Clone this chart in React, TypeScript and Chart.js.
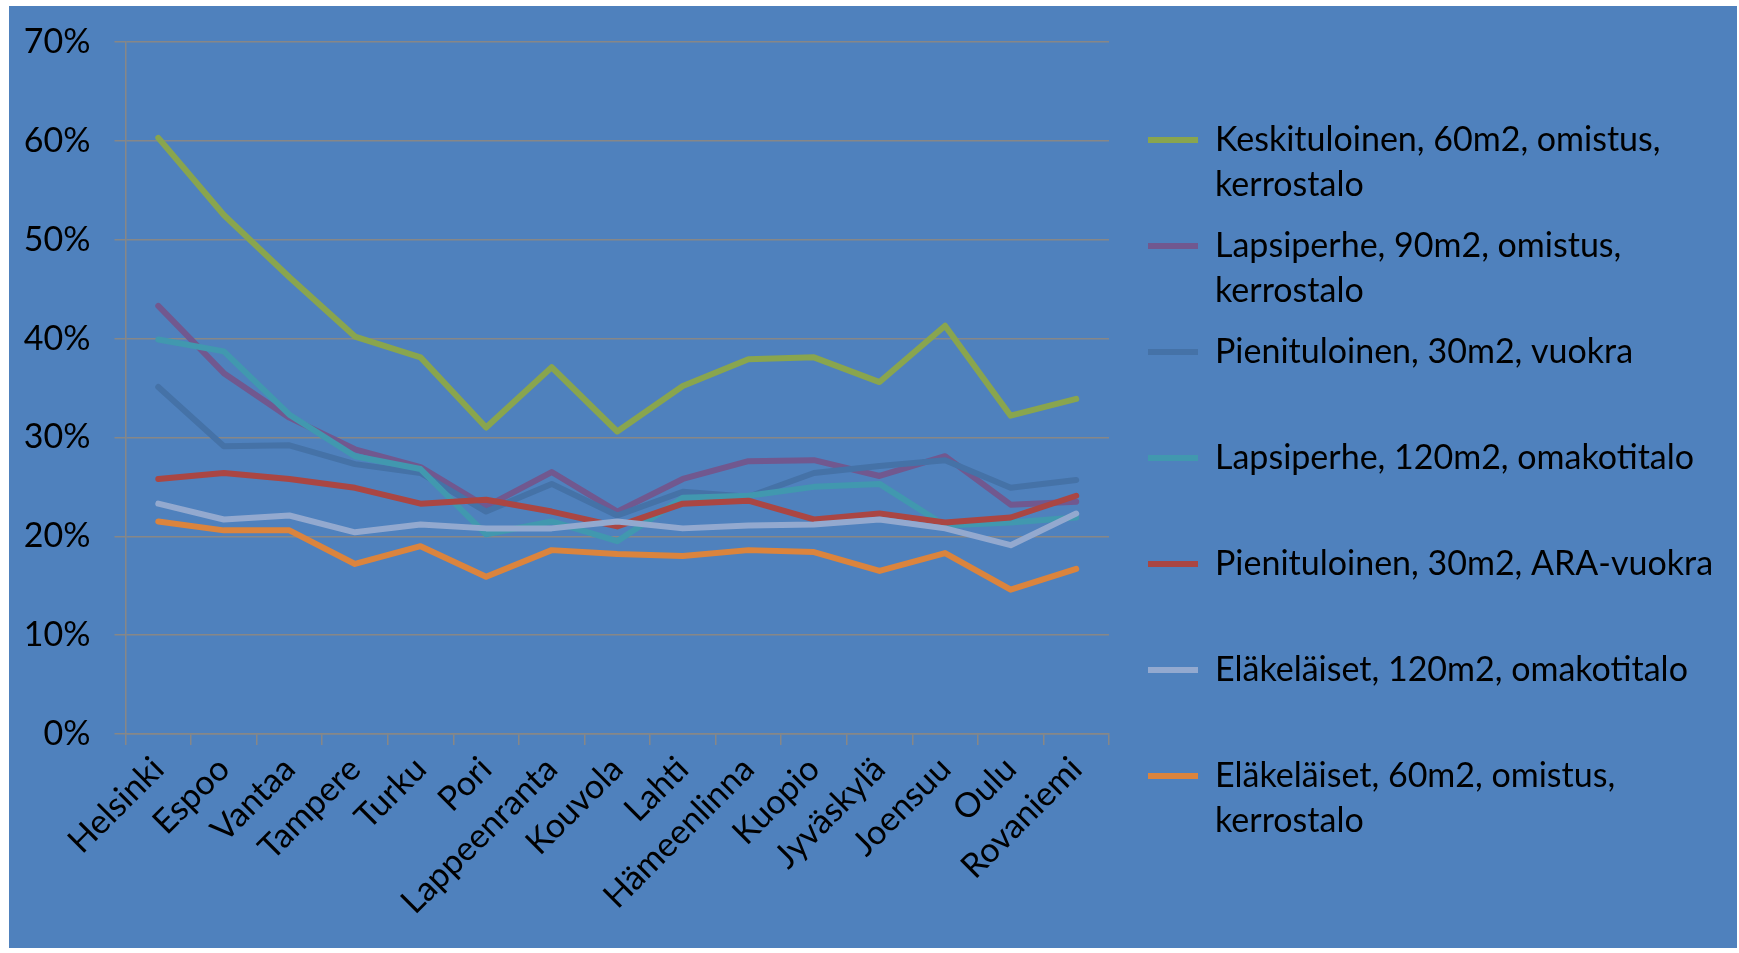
import { useEffect, useRef } from "react";
import { Chart, registerables } from "chart.js";

Chart.register(...registerables);

const cities = [
  "Helsinki", "Espoo", "Vantaa", "Tampere", "Turku", "Pori", "Lappeenranta",
  "Kouvola", "Lahti", "Hämeenlinna", "Kuopio", "Jyväskylä", "Joensuu", "Oulu", "Rovaniemi",
];

const keskituloinen60Omistus = [60.3, 52.5, 46.2, 40.2, 38.1, 31.0, 37.1, 30.6, 35.2, 37.9, 38.1, 35.6, 41.3, 32.2, 33.9];
const lapsiperhe90Omistus = [43.3, 36.5, 32.0, 28.8, 27.0, 23.0, 26.5, 22.5, 25.8, 27.6, 27.7, 26.1, 28.1, 23.2, 23.5];
const pienituloinen30Vuokra = [35.1, 29.1, 29.2, 27.3, 26.4, 22.5, 25.3, 22.1, 24.5, 24.0, 26.4, 27.1, 27.7, 24.9, 25.7];
const lapsiperhe120Omakoti = [39.9, 38.7, 32.3, 28.1, 26.8, 20.2, 21.5, 19.5, 23.9, 24.1, 25.0, 25.3, 21.1, 21.4, 21.9];
const pienituloinen30Ara = [25.8, 26.4, 25.8, 24.9, 23.3, 23.7, 22.5, 21.0, 23.3, 23.6, 21.7, 22.3, 21.4, 21.9, 24.1];
const elakelaiset120Omakoti = [23.3, 21.7, 22.1, 20.4, 21.2, 20.8, 20.8, 21.5, 20.8, 21.1, 21.2, 21.7, 20.8, 19.1, 22.3];
const elakelaiset60Omistus = [21.5, 20.6, 20.6, 17.2, 19.0, 15.9, 18.6, 18.2, 18.0, 18.6, 18.4, 16.5, 18.3, 14.6, 16.7];

const yTicks = [0, 10, 20, 30, 40, 50, 60, 70];

const seriesLabels: string[][] = [
  ["Keskituloinen, 60m2, omistus,", "kerrostalo"],
  ["Lapsiperhe, 90m2, omistus,", "kerrostalo"],
  ["Pienituloinen, 30m2, vuokra", ""],
  ["Lapsiperhe, 120m2, omakotitalo", ""],
  ["Pienituloinen, 30m2, ARA-vuokra", ""],
  ["Eläkeläiset, 120m2, omakotitalo", ""],
  ["Eläkeläiset, 60m2, omistus,", "kerrostalo"],
];
const seriesData = [
  keskituloinen60Omistus,
  lapsiperhe90Omistus,
  pienituloinen30Vuokra,
  lapsiperhe120Omakoti,
  pienituloinen30Ara,
  elakelaiset120Omakoti,
  elakelaiset60Omistus,
];
const seriesColors = ["#89A54E", "#71588F", "#4572A7", "#4198AF", "#AA4643", "#93A9CF", "#DB843D"];

const FONT = "Lato, 'Open Sans', sans-serif";
const FONT_SIZE = 34;
const GRID = "#878787";

export default function App() {
  const ref = useRef<HTMLCanvasElement | null>(null);

  useEffect(() => {
    if (!ref.current) return;
    const chart = new Chart(ref.current, {
      type: "line",
      data: {
        labels: cities,
        datasets: seriesData.map((d, i) => ({
          label: seriesLabels[i].filter((s) => s).join(" "),
          data: d,
          borderColor: seriesColors[i],
          backgroundColor: seriesColors[i],
          borderWidth: 6,
          borderCapStyle: "round" as const,
          borderJoinStyle: "round" as const,
          pointRadius: 0,
          tension: 0,
          order: seriesData.length - i,
          yAxisID: "y",
        })),
      },
      options: {
        responsive: false,
        animation: false,
        layout: { padding: { top: 36, right: 19, bottom: 18, left: 0 } },
        plugins: {
          tooltip: { enabled: false },
          legend: {
            position: "right",
            align: "center",
            maxWidth: 586,
            labels: {
              color: "#000",
              font: { family: FONT, size: FONT_SIZE, lineHeight: "45px" },
              boxWidth: 50,
              boxHeight: 6,
              padding: 16,
              useBorderRadius: true,
              borderRadius: 3,
              generateLabels: (c: any) =>
                c.data.datasets.map((ds: any, i: number) => ({
                  text: seriesLabels[i],
                  fillStyle: seriesColors[i],
                  strokeStyle: seriesColors[i],
                  lineWidth: 0,
                  hidden: false,
                  datasetIndex: i,
                  fontColor: "#000",
                })),
            },
          },
        },
        scales: {
          x: {
            type: "category",
            offset: true,
            grid: {
              display: true,
              drawOnChartArea: false,
              drawTicks: true,
              tickLength: 11,
              offset: true,
              color: GRID,
              lineWidth: 1.5,
            },
            border: { display: true, color: GRID, width: 1.5 },
            ticks: {
              color: "#000",
              font: { family: FONT, size: FONT_SIZE },
              minRotation: 45,
              maxRotation: 45,
              autoSkip: false,
              padding: 4,
            },
            afterFit: (s: any) => {
              s.height = 196;
            },
          },
          y: {
            type: "linear",
            position: "left",
            min: 0,
            max: 70,
            afterBuildTicks: (s: any) => {
              s.ticks = yTicks.map((v) => ({ value: v }));
            },
            grid: { color: GRID, lineWidth: 1.5, tickLength: 11, drawTicks: true },
            border: { display: true, color: GRID, width: 1.5 },
            ticks: {
              color: "#000",
              font: { family: FONT, size: FONT_SIZE },
              padding: 24,
              callback: (v: any) => `${v}%`,
            },
            afterFit: (s: any) => {
              s.width = 116.5;
              s.paddingTop = 0;
              s.paddingBottom = 0;
            },
          },
          spacer: {
            type: "linear",
            position: "right",
            display: true,
            grid: { display: false },
            border: { display: false },
            ticks: { display: false },
            afterFit: (s: any) => {
              s.width = 23;
            },
          },
        },
      },
    } as any);
    return () => chart.destroy();
  }, []);

  return (
    <div
      style={{
        position: "fixed",
        left: 9,
        top: 6,
        width: 1728,
        height: 942,
        background: "#4F81BD",
      }}
    >
      <canvas ref={ref} width={1728} height={942} style={{ display: "block" }} />
    </div>
  );
}
